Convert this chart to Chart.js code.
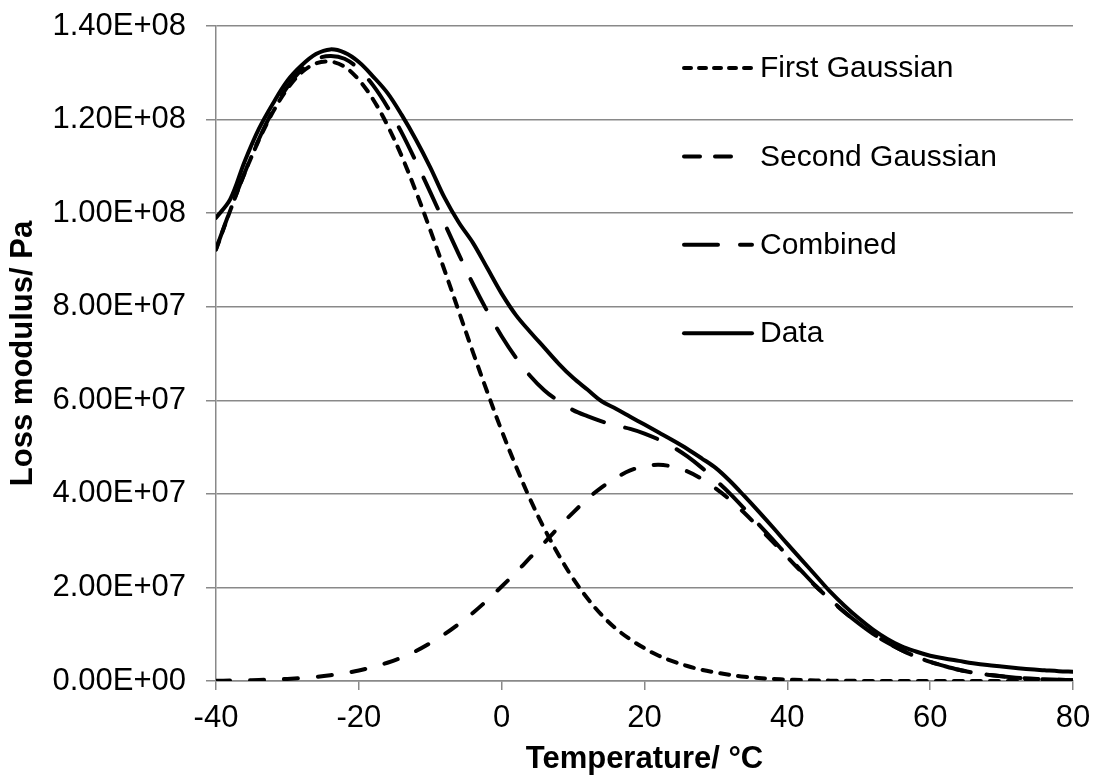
<!DOCTYPE html>
<html>
<head>
<meta charset="utf-8">
<title>Loss modulus</title>
<script src="https://cdn.jsdelivr.net/npm/chart.js@4.4.1/dist/chart.umd.min.js"></script>
<style>
  html,body{margin:0;padding:0;background:#fff;}
  #wrap{width:1094px;height:775px;}
</style>
</head>
<body>
<div id="wrap"><canvas id="chartLoss" width="1094" height="775"></canvas></div>
<script>
// ======================= DATA (modulus in 1e6 Pa) =======================
const temps = [-40,-38,-36,-34,-32,-30,-28,-26,-24,-22,-20,-18,-16,-14,-12,-10,-8,-6,-4,-2,
  0,2,4,6,8,10,12,14,16,18,20,22,24,26,28,30,32,34,36,38,40,42,44,46,48,50,52,54,56,58,60,
  62,64,66,68,70,72,74,76,78,80];

const firstGaussian = [92.2,100.6,108.5,115.6,121.7,126.6,130.1,132.0,132.4,131.3,128.5,124.3,118.8,112.2,104.6,96.4,87.8,79.0,70.2,61.7,
  53.5,45.9,38.8,32.5,26.9,21.9,17.7,14.1,11.2,8.9,7.0,5.4,4.2,3.2,2.4,1.8,1.3,0.9,0.65,0.45,0.3,0.2,0.13,0.08,0.05,0.03,0.02,0.01,0,0,0,
  0,0,0,0,0,0,0,0,0,0];

const secondGaussian = [0.06,0.09,0.14,0.21,0.31,0.44,0.63,0.88,1.23,1.67,2.26,3.0,3.9,5.0,6.4,8.1,10.0,12.2,14.6,17.3,
  20.2,23.2,26.4,29.6,32.9,36.0,38.9,41.4,43.4,45.0,45.9,46.2,45.8,44.8,43.2,41.1,38.7,35.9,32.8,29.7,26.5,23.3,20.2,17.4,14.7,12.3,10.1,8.2,6.6,5.2,4.1,
  3.2,2.4,1.8,1.35,1.0,0.72,0.51,0.36,0.25,0.17];

const combined = [92.3,100.7,108.6,115.8,122.0,127.0,130.7,132.9,133.6,133.0,130.8,127.3,122.7,117.2,111.0,104.5,97.8,91.2,84.8,79.0,
  73.7,69.1,65.2,62.1,59.8,57.9,56.6,55.5,54.6,53.9,52.9,51.6,50.0,48.0,45.6,42.9,40.0,36.8,33.45,30.15,26.8,23.5,20.3,17.5,14.75,12.3,10.1,8.2,6.6,5.2,4.1,
  3.2,2.4,1.8,1.35,1.0,0.72,0.51,0.36,0.25,0.17];

const measured = [99.0,103.0,111.0,118.0,123.5,128.3,131.6,134.0,135.0,134.3,132.3,129.2,125.7,121.0,115.7,109.8,103.3,98.0,93.6,88.2,
  82.8,78.2,74.6,71.2,67.8,64.8,62.3,59.8,58.2,56.5,54.8,53.1,51.4,49.6,47.6,45.5,42.7,39.5,36.2,32.8,29.3,25.9,22.5,19.1,16.1,13.4,11.0,9.0,7.4,6.3,5.4,
  4.8,4.3,3.8,3.4,3.1,2.8,2.5,2.3,2.1,2.0];

const seriesNames = ["First Gaussian","Second Gaussian","Combined","Data"];
const xTicks = [-40,-20,0,20,40,60,80];
const yTicks = [0,2e7,4e7,6e7,8e7,1e8,1.2e8,1.4e8];

// ======================= HELPERS =======================
const FONT = "'Liberation Sans', Arial, sans-serif";
const GRID = "#898989";
const pts = (arr)=>temps.map((t,i)=>({x:t, y:arr[i]*1e6}));
function sci(v){
  if(v===0) return "0.00E+00";
  const e = Math.floor(Math.log10(v)+1e-9);
  return (v/Math.pow(10,e)).toFixed(2)+"E+"+String(e).padStart(2,"0");
}
function ds(label, arr, dash, legendDash, legendEnd){
  return {label, data:pts(arr), borderColor:"#000", borderWidth:4, borderDash:dash,
    borderCapStyle:"round", pointRadius:0, tension:0.35, fill:false,
    legendDash, legendEnd};
}

// legend drawn inside the plot, like the original
const insideLegend = {
  id:"insideLegend",
  afterDraw(chart){
    const ctx = chart.ctx;
    const x0 = 684, tx = 760, y0 = 68, dy = 88.4;
    ctx.save();
    chart.data.datasets.forEach((d,i)=>{
      const y = y0 + i*dy;
      ctx.strokeStyle = "#000"; ctx.lineWidth = 4; ctx.lineCap = "round";
      ctx.setLineDash(d.legendDash || []);
      ctx.beginPath(); ctx.moveTo(x0,y); ctx.lineTo(d.legendEnd || 752,y); ctx.stroke();
      ctx.setLineDash([]);
      ctx.fillStyle = "#000"; ctx.font = "30px "+FONT;
      ctx.textAlign = "left"; ctx.textBaseline = "middle";
      ctx.fillText(d.label, tx, y+1);
    });
    ctx.restore();
  }
};

// ======================= CHART =======================
new Chart(document.getElementById("chartLoss"),{
  type:"line",
  data:{
    datasets:[
      ds(seriesNames[0], firstGaussian, [9,9], [7,8], 752),
      ds(seriesNames[1], secondGaussian, [14,20], [16,15], 736),
      ds(seriesNames[2], combined, [34,22], [34,22], 752),
      ds(seriesNames[3], measured, [], [], 752)
    ]
  },
  options:{
    responsive:false, animation:false,
    layout:{padding:{top:26,right:21,bottom:0,left:0}},
    plugins:{legend:{display:false}, tooltip:{enabled:false}},
    scales:{
      x:{
        type:"linear", min:-40, max:80,
        afterBuildTicks:(s)=>{ s.ticks = xTicks.map(v=>({value:v})); },
        afterFit:(s)=>{ s.height = 94; s.paddingLeft = 0; s.paddingRight = 0; },
        ticks:{color:"#000", font:{family:FONT,size:31}, padding:10, maxRotation:0, callback:(v)=>String(v)},
        grid:{drawOnChartArea:false, drawTicks:true, tickLength:9, color:GRID, lineWidth:1.5},
        border:{color:GRID, width:1.5},
        title:{display:true, text:"Temperature/ °C", color:"#000", font:{family:FONT,size:31,weight:"bold",lineHeight:1.0}, padding:{top:0,bottom:0}}
      },
      y:{
        min:0, max:1.4e8,
        afterBuildTicks:(s)=>{ s.ticks = yTicks.map(v=>({value:v})); },
        afterFit:(s)=>{ s.width = 216; s.paddingTop = 0; s.paddingBottom = 0; },
        ticks:{color:"#000", font:{family:FONT,size:31}, padding:20, callback:(v)=>sci(v)},
        grid:{color:GRID, lineWidth:1.5, tickLength:10},
        border:{color:GRID, width:1.5},
        title:{display:true, text:"Loss modulus/ Pa", color:"#000", font:{family:FONT,size:31,weight:"bold"}, padding:{top:5,bottom:0}}
      }
    }
  },
  plugins:[insideLegend]
});
</script>
</body>
</html>
